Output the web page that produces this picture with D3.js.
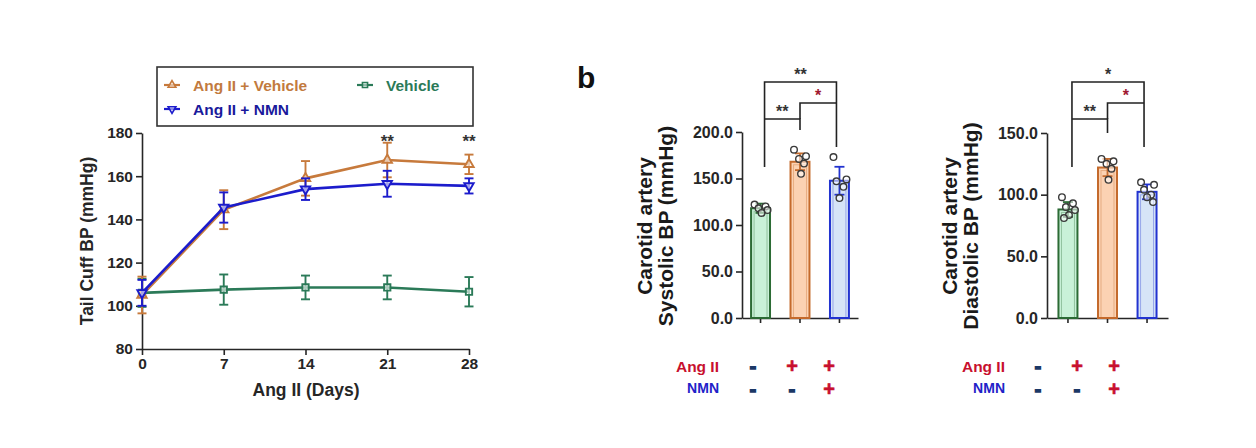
<!DOCTYPE html>
<html><head><meta charset="utf-8">
<script src="https://cdn.jsdelivr.net/npm/d3@7"></script>
<style>
body{margin:0;background:#fff}
svg{display:block;font-family:"Liberation Sans",Arial,sans-serif;font-weight:bold}
</style>
</head><body><svg id="c" width="1256" height="448"></svg>
<script>
// ---------- DATA ----------
const days = [0, 7, 14, 21, 28];
const lineTicksY = [80, 100, 120, 140, 160, 180];
const seriesNames = ["Ang II + Vehicle", "Ang II + NMN", "Vehicle"];
const angVehMean = [105, 144.5, 159, 167.5, 165.5];
const angVehErr  = [8.5, 9, 8, 8, 4.5];
const angNmnMean = [106, 145.5, 154, 156.5, 155.5];
const angNmnErr  = [6, 7, 5, 6, 3.5];
const vehMean    = [106, 107.5, 108.5, 108.5, 106.5];
const vehErr     = [6.5, 7, 5.5, 5.5, 6.8];
const lineSig    = ["", "", "", "**", "**"];

const groups = ["Vehicle", "Ang II", "Ang II + NMN"];
const sysMean = [118, 168, 147.6];
const sysSD   = [5, 9, 15];
const sysDots = [[122, 120, 118, 116, 113], [181, 174, 171, 166, 155], [173, 149, 147, 141, 129]];
const sysTicks = [0, 50, 100, 150, 200];
const sysSig = ["**", "**", "*"];   // [g vs b, g vs o, o vs b]

const diaMean = [88, 122, 102.3];
const diaSD   = [6, 7, 6];
const diaDots = [[98, 93, 90, 87.5, 83.5, 81], [129, 127, 125, 121, 112], [110, 108, 104, 100, 98, 94]];
const diaTicks = [0, 50, 100, 150];
const diaSig = ["*", "**", "*"];

const angRow = ["-", "+", "+"];
const nmnRow = ["-", "-", "+"];

// ---------- STYLE ----------
const C = {
  orange: "#c77a3c", blue: "#1c1ccc", green: "#2b7a58", axis: "#262626",
  gFill: "#c9f1d8", gStroke: "#2c6b35", oFill: "#fbd2b3", oStroke: "#c46a2c",
  bFill: "#d6e4f7", bStroke: "#2233d0", red: "#c8102e", navy: "#1b3866"
};
const svg = d3.select("#c");

function styleAxis(g, fs) {
  g.selectAll("path,line").attr("stroke", C.axis).attr("stroke-width", 1.6);
  g.selectAll("text").attr("fill", C.axis).attr("font-size", fs)
    .attr("font-family", '"Liberation Sans",Arial,sans-serif').attr("font-weight", "bold");
}

// ---------- PANEL A: line chart ----------
const x = d3.scaleLinear().domain([0, 28]).range([142, 469]);
const y = d3.scaleLinear().domain([80, 180]).range([349, 133]);

svg.append("g").attr("transform", "translate(0,349)")
  .call(d3.axisBottom(x).tickValues(days).tickSize(6).tickSizeOuter(0))
  .call(g => styleAxis(g, 15.5));
svg.append("g").attr("transform", "translate(142,0)")
  .call(d3.axisLeft(y).tickValues(lineTicksY).tickSize(6).tickSizeOuter(0))
  .call(g => styleAxis(g, 15.5));

svg.append("text").attr("transform", "translate(93,241) rotate(-90)")
  .attr("text-anchor", "middle").attr("font-size", 17.5).attr("fill", C.axis)
  .text("Tail Cuff BP (mmHg)");
svg.append("text").attr("x", 306).attr("y", 396)
  .attr("text-anchor", "middle").attr("font-size", 17.5).attr("fill", C.axis)
  .text("Ang II (Days)");

const series = [
  {name: seriesNames[2], mean: vehMean, err: vehErr, color: C.green, sym: d3.symbolSquare, rot: 0, size: 40},
  {name: seriesNames[0], mean: angVehMean, err: angVehErr, color: C.orange, sym: d3.symbolTriangle, rot: 0, size: 38},
  {name: seriesNames[1], mean: angNmnMean, err: angNmnErr, color: C.blue, sym: d3.symbolTriangle, rot: 180, size: 38}
];
const line = d3.line().x((d, i) => x(days[i])).y(d => y(d));
series.forEach(s => {
  const g = svg.append("g");
  s.mean.forEach((m, i) => {
    const cx = x(days[i]);
    g.append("line").attr("x1", cx).attr("x2", cx).attr("y1", y(m - s.err[i])).attr("y2", y(m + s.err[i]))
      .attr("stroke", s.color).attr("stroke-width", 1.9);
    [m - s.err[i], m + s.err[i]].forEach(v => g.append("line")
      .attr("x1", cx - 4.5).attr("x2", cx + 4.5).attr("y1", y(v)).attr("y2", y(v))
      .attr("stroke", s.color).attr("stroke-width", 1.9));
  });
  g.append("path").attr("d", line(s.mean)).attr("fill", "none")
    .attr("stroke", s.color).attr("stroke-width", 2.6);
  s.mean.forEach((m, i) => {
    g.append("path").attr("d", d3.symbol().type(s.sym).size(s.size)())
      .attr("transform", `translate(${x(days[i])},${y(m)}) rotate(${s.rot})`)
      .attr("fill", "#fff").attr("fill-opacity", 0.6).attr("stroke", s.color).attr("stroke-width", 1.9);
  });
});
lineSig.forEach((t, i) => {
  if (!t) return;
  svg.append("text").attr("x", x(days[i])).attr("y", 147).attr("text-anchor", "middle")
    .attr("font-size", 17).attr("fill", "#333").text(t);
});

// legend
svg.append("rect").attr("x", 157).attr("y", 67).attr("width", 316).attr("height", 59)
  .attr("fill", "none").attr("stroke", "#333").attr("stroke-width", 1.6);
const legendItems = [
  {s: series[1], x: 172, y: 85, tc: "#c27a3e"},
  {s: series[2], x: 172, y: 109, tc: "#1a1a9c"},
  {s: series[0], x: 365, y: 85, tc: "#2b7a58"}
];
legendItems.forEach(it => {
  svg.append("line").attr("x1", it.x - 8).attr("x2", it.x + 8).attr("y1", it.y).attr("y2", it.y)
    .attr("stroke", it.s.color).attr("stroke-width", 2.2);
  svg.append("path").attr("d", d3.symbol().type(it.s.sym).size(26)())
    .attr("transform", `translate(${it.x},${it.y}) rotate(${it.s.rot})`)
    .attr("fill", "#fff").attr("fill-opacity", 0.5).attr("stroke", it.s.color).attr("stroke-width", 1.6);
  svg.append("text").attr("x", it.x + 21).attr("y", it.y + 6).attr("font-size", 15.5)
    .attr("fill", it.tc).text(it.s.name);
});

// ---------- PANEL B ----------
svg.append("text").attr("x", 577).attr("y", 88).attr("font-size", 30).attr("fill", "#111").text("b");

const barFill = [C.gFill, C.oFill, C.bFill];
const barStroke = [C.gStroke, C.oStroke, C.bStroke];
const jitter = [[-6, 5, -2, 7, 1, -4], [-6, 6, -1, 4, 1], [-6, 7, -3, 4, 0, 6]];

function barPanel(o) {
  const yb = d3.scaleLinear().domain(o.domain).range([318, o.top]);
  const xb = d3.scaleBand().domain(groups).range([o.x0, o.x1]).paddingInner(0.52).paddingOuter(o.po);
  const g = svg.append("g");
  g.append("g").attr("transform", "translate(0,318)")
    .call(d3.axisBottom(xb).tickSize(5).tickSizeOuter(0).tickFormat(""))
    .call(a => styleAxis(a, 14));
  g.append("g").attr("transform", `translate(${o.x0},0)`)
    .call(d3.axisLeft(yb).tickValues(o.ticks).tickSize(6).tickSizeOuter(0).tickFormat(d3.format(".1f")))
    .call(a => styleAxis(a, 16));
  const t = g.append("text").attr("transform", `translate(${o.x0 - 90},${o.labelY}) rotate(-90)`)
    .attr("text-anchor", "middle").attr("font-size", 21).attr("fill", "#1a1a1a");
  t.append("tspan").attr("x", 0).attr("dy", 0).text("Carotid artery");
  t.append("tspan").attr("x", 0).attr("dy", 21).text(o.label2);

  groups.forEach((gr, i) => {
    const bx = xb(gr), bw = xb.bandwidth(), cx = bx + bw / 2;
    g.append("rect").attr("x", bx).attr("y", yb(o.mean[i])).attr("width", bw)
      .attr("height", 318 - yb(o.mean[i])).attr("fill", barFill[i])
      .attr("stroke", barStroke[i]).attr("stroke-width", 2);
    g.append("rect").attr("x", bx + 3).attr("y", yb(o.mean[i]) + 3).attr("width", bw - 6)
      .attr("height", Math.max(0, 318 - yb(o.mean[i]) - 3)).attr("fill", "none")
      .attr("stroke", barStroke[i]).attr("stroke-opacity", 0.35).attr("stroke-width", 1);
    const lo = o.mean[i] - o.sd[i], hi = o.mean[i] + o.sd[i];
    g.append("line").attr("x1", cx).attr("x2", cx).attr("y1", yb(lo)).attr("y2", yb(hi))
      .attr("stroke", barStroke[i]).attr("stroke-width", 1.8);
    [lo, hi].forEach(v => g.append("line").attr("x1", cx - 5).attr("x2", cx + 5)
      .attr("y1", yb(v)).attr("y2", yb(v)).attr("stroke", barStroke[i]).attr("stroke-width", 1.8));
    o.dots[i].forEach((v, j) => g.append("circle").attr("cx", cx + jitter[i][j]).attr("cy", yb(v))
      .attr("r", 3.3).attr("fill", "#fff").attr("fill-opacity", 0.55)
      .attr("stroke", "#3a3a3a").attr("stroke-width", 1.4));
  });

  // brackets
  const cxs = groups.map(gr => xb(gr) + xb.bandwidth() / 2);
  const gx = cxs[0] + 4, ox = cxs[1], bxp = cxs[2] - 3;
  const st = {stroke: "#222", "stroke-width": 1.6, fill: "none"};
  const path = d => { const p = g.append("path").attr("d", d); Object.entries(st).forEach(([k, v]) => p.attr(k, v)); };
  path(`M${gx},167V82H${bxp}V147`);
  path(`M${gx},119H${ox}V${o.oLeg}`);
  path(`M${ox},119V103H${bxp}`);
  g.append("text").attr("x", (gx + bxp) / 2).attr("y", 80).attr("text-anchor", "middle")
    .attr("font-size", 16).attr("fill", "#333").text(o.sig[0]);
  g.append("text").attr("x", (gx + ox) / 2).attr("y", 117).attr("text-anchor", "middle")
    .attr("font-size", 16).attr("fill", "#333").text(o.sig[1]);
  g.append("text").attr("x", (ox + bxp) / 2).attr("y", 101).attr("text-anchor", "middle")
    .attr("font-size", 16).attr("fill", "#a01830").text(o.sig[2]);

  // treatment table
  g.append("text").attr("x", o.tx).attr("y", 372).attr("text-anchor", "end")
    .attr("font-size", 15.5).attr("fill", C.red).text("Ang II");
  g.append("text").attr("x", o.tx).attr("y", 393).attr("text-anchor", "end")
    .attr("font-size", 14).attr("fill", "#2222c8").text("NMN");
  [angRow, nmnRow].forEach((row, r) => row.forEach((s, i) => {
    const plus = s === "+";
    g.append("text").attr("x", o.sx[i]).attr("y", r === 0 ? 373 : 396).attr("text-anchor", "middle")
      .attr("font-size", plus ? 20 : 19).attr("fill", plus ? C.red : C.navy)
      .attr("stroke", plus ? C.red : C.navy).attr("stroke-width", plus ? 0.6 : 1.6)
      .text(s);
  }));
}

barPanel({domain: [0, 200], top: 132, ticks: sysTicks, x0: 742, x1: 858, po: 0.23,
  mean: sysMean, sd: sysSD, dots: sysDots, sig: sysSig, label2: "Systolic BP (mmHg)",
  labelY: 226, oLeg: 130, tx: 719, sx: [753, 792, 829]});
barPanel({domain: [0, 150], top: 133, ticks: diaTicks, x0: 1047, x1: 1168, po: 0.29,
  mean: diaMean, sd: diaSD, dots: diaDots, sig: diaSig, label2: "Diastolic BP (mmHg)",
  labelY: 226, oLeg: 133, tx: 1005, sx: [1038, 1077, 1114]});
</script></body></html>
